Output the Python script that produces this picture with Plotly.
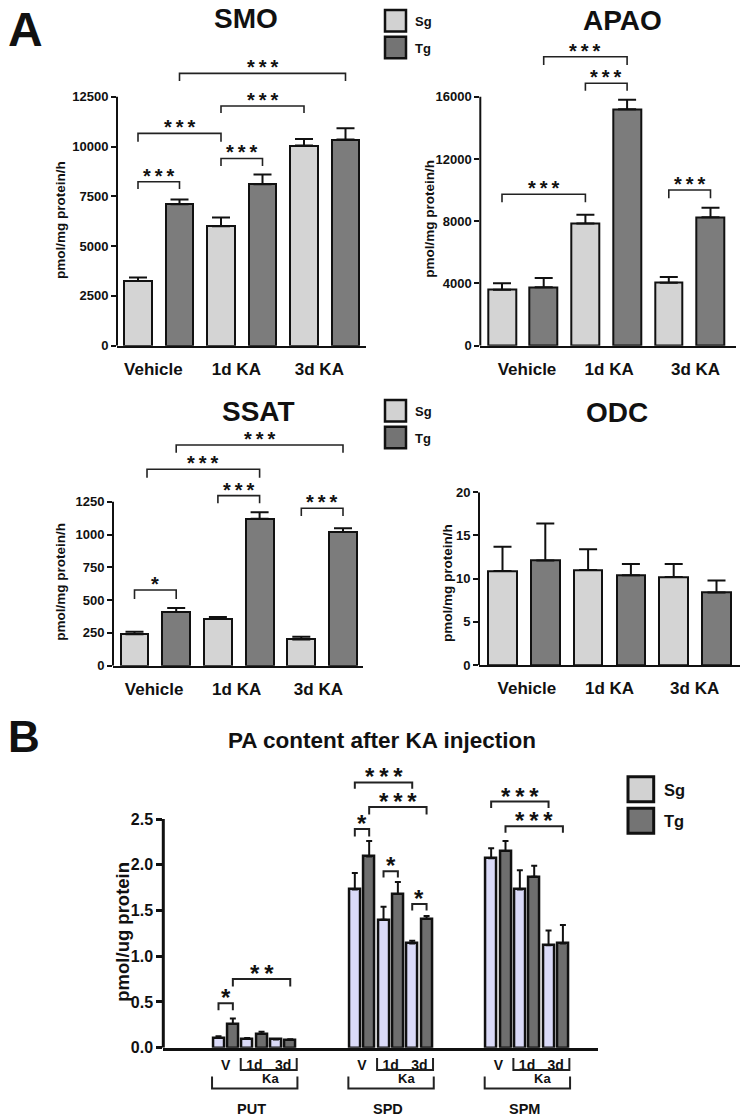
import plotly.graph_objects as go

W, H = 746, 1118
FONT = "Liberation Sans, Arial, Helvetica, sans-serif"
INK = "#111111"

# ---------------- data ----------------
categories = ["Vehicle", "1d KA", "3d KA"]
series_names = ["Sg", "Tg"]

smo_sg = [3250, 6000, 10050]
smo_sg_err = [170, 430, 330]
smo_tg = [7100, 8100, 10350]
smo_tg_err = [240, 500, 560]

apao_sg = [3600, 7850, 4050]
apao_sg_err = [420, 560, 360]
apao_tg = [3750, 15200, 8250]
apao_tg_err = [600, 600, 620]

ssat_sg = [240, 355, 200]
ssat_sg_err = [18, 17, 20]
ssat_tg = [410, 1120, 1020]
ssat_tg_err = [30, 50, 28]

odc_sg = [10.9, 11.0, 10.2]
odc_sg_err = [2.8, 2.4, 1.5]
odc_tg = [12.1, 10.4, 8.4]
odc_tg_err = [4.3, 1.3, 1.4]

pa_compounds = ["PUT", "SPD", "SPM"]
pa_conditions = ["V", "1d", "3d"]
pa_ka_label = "Ka"
put_sg = [0.11, 0.095, 0.09]
put_sg_err = [0.015, 0.01, 0.005]
put_tg = [0.26, 0.15, 0.085]
put_tg_err = [0.06, 0.025, 0.006]
spd_sg = [1.73, 1.40, 1.14]
spd_sg_err = [0.18, 0.14, 0.03]
spd_tg = [2.09, 1.68, 1.41]
spd_tg_err = [0.17, 0.13, 0.03]
spm_sg = [2.07, 1.73, 1.12]
spm_sg_err = [0.11, 0.21, 0.16]
spm_tg = [2.15, 1.87, 1.14]
spm_tg_err = [0.11, 0.12, 0.20]

# significance brackets: (bar_i, bar_j, y_top, y_leg, label)
smo_sig = [(0, 1, 8230, 7870, "***"), (2, 3, 9400, 9020, "***"),
           (0, 2, 10660, 10240, "***"), (2, 4, 12030, 11680, "***"),
           (1, 5, 13670, 13290, "***")]
apao_sig = [(0, 2, 9730, 9210, "***"), (2, 3, 16860, 16390, "***"),
            (1, 3, 18570, 18040, "***"), (4, 5, 10000, 9470, "***")]
ssat_sig = [(0, 1, 577, 508, "*"), (2, 3, 1296, 1238, "***"),
            (4, 5, 1200, 1141, "***"), (0.3, 3, 1497, 1433, "***"),
            (1, 5, 1682, 1623, "***")]
put_sig = [(0, 1, 0.485, 0.41, "*"), (1, 5, 0.75, 0.67, "**")]
spd_sig = [(0, 1, 2.39, 2.31, "*"), (2, 3, 1.93, 1.86, "*"),
           (4, 5, 1.57, 1.50, "*"), (0, 4, 2.90, 2.83, "***"),
           (1, 5, 2.63, 2.55, "***")]
spm_sig = [(0, 4, 2.69, 2.62, "***"), (1, 5, 2.42, 2.35, "***")]

# ---------------- styles ----------------
A_SG, A_TG = "#d4d4d4", "#7c7c7c"
B_SG, B_TG = "#dadaf8", "#6e6e6e"
LEG_SG, LEG_TG = "#d2d2d2", "#747474"


def px(yp):
    return 1 - yp / H


def bold(size):
    return dict(family=FONT, size=size, color=INK, weight="bold")


fig = go.Figure()
shapes, annos = [], []


def star_text(s):
    return "\u2009".join(s)


def add_brackets(xr, yr, sig, offset, star_size, yshift, lw):
    for i, j, yt, yl, lab in sig:
        xi, xj = offset + i, offset + j
        shapes.append(dict(type="path", xref=xr, yref=yr,
                           path=f"M {xi},{yl} L {xi},{yt} L {xj},{yt} L {xj},{yl}",
                           line=dict(color="#222", width=lw)))
        annos.append(dict(x=(xi + xj) / 2, y=yt, xref=xr, yref=yr,
                          text=star_text(lab), showarrow=False,
                          yanchor="bottom", yshift=yshift,
                          font=bold(star_size)))


# ---------------- panel A ----------------
panels_a = [
    dict(title="SMO", sg=smo_sg, sge=smo_sg_err, tg=smo_tg, tge=smo_tg_err,
         left=117, right=366, y0=345.7, ytop=96.7, yval=12500, dtick=2500,
         ymax=15000, c0=138, sp=41.5, xt=[0.37, 2.37, 4.37], sig=smo_sig,
         tpos=(245.5, 18.5), ypos=(61, 220)),
    dict(title="APAO", sg=apao_sg, sge=apao_sg_err, tg=apao_tg, tge=apao_tg_err,
         left=480.3, right=736, y0=345.7, ytop=96.7, yval=16000, dtick=4000,
         ymax=20000, c0=502, sp=41.7, xt=[0.6, 2.57, 4.64], sig=apao_sig,
         tpos=(622, 20), ypos=(428.7, 219)),
    dict(title="SSAT", sg=ssat_sg, sge=ssat_sg_err, tg=ssat_tg, tge=ssat_tg_err,
         left=113, right=363, y0=665.7, ytop=501.7, yval=1250, dtick=250,
         ymax=1850, c0=134.5, sp=41.7, xt=[0.47, 2.45, 4.41], sig=ssat_sig,
         tpos=(258, 411.5), ypos=(61, 581.7)),
    dict(title="ODC", sg=odc_sg, sge=odc_sg_err, tg=odc_tg, tge=odc_tg_err,
         left=479, right=740, y0=665, ytop=492.3, yval=20, dtick=5,
         ymax=20, c0=502.5, sp=42.8, xt=[0.57, 2.5, 4.49], sig=[],
         tpos=(616.7, 412.5), ypos=(447, 583)),
]

for n, p in enumerate(panels_a, start=1):
    sfx = "" if n == 1 else str(n)
    xa, ya = "x" + sfx, "y" + sfx
    k = (p["y0"] - p["ytop"]) / p["yval"]
    dom_top = p["y0"] - p["ymax"] * k
    xr = [(p["left"] - p["c0"]) / p["sp"], (p["right"] - p["c0"]) / p["sp"]]
    for vals, errs, col, xs in ((p["sg"], p["sge"], A_SG, [0, 2, 4]),
                                (p["tg"], p["tge"], A_TG, [1, 3, 5])):
        fig.add_trace(go.Bar(
            x=xs, y=vals, width=0.67, xaxis=xa, yaxis=ya, showlegend=False,
            marker=dict(color=col, line=dict(color=INK, width=2)),
            error_y=dict(type="data", symmetric=False, array=errs,
                         arrayminus=[0] * len(errs), width=9, thickness=2,
                         color=INK)))
    fig.layout["xaxis" + sfx] = dict(
        domain=[p["left"] / W, p["right"] / W], range=xr, anchor=ya,
        showline=True, linewidth=2, linecolor=INK, ticks="",
        tickvals=p["xt"], ticktext=categories, tickfont=bold(17),
        ticklabelstandoff=7, showgrid=False, zeroline=False, fixedrange=True,
        automargin=False)
    tv = [p["dtick"] * i for i in range(int(round(p["yval"] / p["dtick"])) + 1)]
    fig.layout["yaxis" + sfx] = dict(
        domain=[px(p["y0"]), px(dom_top)], range=[0, p["ymax"]], anchor=xa,
        showline=False, ticks="outside", ticklen=5, tickwidth=2, tickcolor=INK,
        tickvals=tv, tickformat="d", tickfont=bold(13), showgrid=False,
        zeroline=False, fixedrange=True, automargin=False)
    shapes.append(dict(type="line", xref=xa + " domain", x0=0, x1=0,
                       yref=ya, y0=0, y1=p["yval"],
                       line=dict(color=INK, width=2)))
    add_brackets(xa, ya, p["sig"], 0, 20, -7, 1.6)
    annos.append(dict(x=p["tpos"][0] / W, y=px(p["tpos"][1]), xref="paper",
                      yref="paper", text=p["title"], showarrow=False,
                      font=bold(28), xanchor="center", yanchor="middle"))
    annos.append(dict(x=p["ypos"][0] / W, y=px(p["ypos"][1]), xref="paper",
                      yref="paper", text="pmol/mg protein/h", textangle=-90,
                      showarrow=False, font=bold(13.5), xanchor="center",
                      yanchor="middle"))

# legends for panel A
for top in (10, 400):
    for idx, (name, col) in enumerate(zip(series_names, (LEG_SG, LEG_TG))):
        y_a = top + idx * 26.7
        shapes.append(dict(type="rect", xref="paper", yref="paper",
                           x0=385 / W, x1=406 / W, y0=px(y_a + 21.5), y1=px(y_a),
                           fillcolor=col, line=dict(color=INK, width=2.5)))
        annos.append(dict(x=413 / W, y=px(y_a + 11.5), xref="paper", yref="paper",
                          text=name, showarrow=False, font=bold(13),
                          xanchor="left", yanchor="middle"))

annos.append(dict(x=6 / W, y=px(1), xref="paper", yref="paper", text="A",
                  showarrow=False, font=bold(48), xanchor="left",
                  yanchor="top"))

# ---------------- panel B ----------------
B = dict(left=163.3, right=598, y0=1047.7, ytop=819, yval=2.5, dtick=0.5,
         ymax=3.1, c0=218.5, sp=14.35, gstep=9.5)
kb = (B["y0"] - B["ytop"]) / B["yval"]
b_top = B["y0"] - B["ymax"] * kb
pa_sg = [put_sg, spd_sg, spm_sg]
pa_sg_err = [put_sg_err, spd_sg_err, spm_sg_err]
pa_tg = [put_tg, spd_tg, spm_tg]
pa_tg_err = [put_tg_err, spd_tg_err, spm_tg_err]

for vals_l, err_l, col, off in ((pa_sg, pa_sg_err, B_SG, 0), (pa_tg, pa_tg_err, B_TG, 1)):
    xs, ys, es = [], [], []
    for g in range(3):
        for c in range(3):
            xs.append(g * B["gstep"] + 2 * c + off)
            ys.append(vals_l[g][c])
            es.append(err_l[g][c])
    fig.add_trace(go.Bar(
        x=xs, y=ys, width=0.77, xaxis="x5", yaxis="y5", showlegend=False,
        marker=dict(color=col, line=dict(color=INK, width=2.5)),
        error_y=dict(type="data", symmetric=False, array=es,
                     arrayminus=[0] * len(es), width=3, thickness=2, color=INK)))

b_tickvals, b_ticktext = [], []
for g in range(3):
    for c in range(3):
        b_tickvals.append(g * B["gstep"] + 2 * c + 0.5)
        b_ticktext.append(pa_conditions[c])

fig.layout["xaxis5"] = dict(
    domain=[B["left"] / W, B["right"] / W],
    range=[(B["left"] - B["c0"]) / B["sp"], (B["right"] - B["c0"]) / B["sp"]],
    anchor="y5", showline=True, linewidth=3, linecolor=INK, ticks="",
    tickvals=b_tickvals, ticktext=b_ticktext, tickfont=bold(14),
    ticklabelstandoff=2, showgrid=False, zeroline=False, fixedrange=True,
    automargin=False)
fig.layout["yaxis5"] = dict(
    domain=[px(B["y0"]), px(b_top)], range=[0, B["ymax"]], anchor="x5",
    showline=False, ticks="outside", ticklen=6, tickwidth=2.5, tickcolor=INK,
    tickvals=[B["dtick"] * i for i in range(6)], tickformat=".1f",
    tickfont=bold(16), showgrid=False, zeroline=False, fixedrange=True,
    automargin=False)
shapes.append(dict(type="line", xref="x5 domain", x0=0, x1=0, yref="y5",
                   y0=0, y1=B["yval"], line=dict(color=INK, width=3)))

for g, sig in enumerate((put_sig, spd_sig, spm_sig)):
    add_brackets("x5", "y5", sig, g * B["gstep"], 24, -10, 2)

for g, name in enumerate(pa_compounds):
    o = g * B["gstep"]
    shapes.append(dict(type="path", xref="x5", yref="paper",
                       path=f"M {o + 1.55},{px(1058)} L {o + 1.55},{px(1070)} "
                            f"L {o + 5.45},{px(1070)} L {o + 5.45},{px(1058)}",
                       line=dict(color="#222", width=2)))
    annos.append(dict(x=o + 3.6, y=px(1078.5), xref="x5", yref="paper",
                      text=pa_ka_label, showarrow=False, font=bold(13),
                      xanchor="center", yanchor="middle"))
    shapes.append(dict(type="path", xref="x5", yref="paper",
                       path=f"M {o - 0.45},{px(1076.5)} L {o - 0.45},{px(1088.5)} "
                            f"L {o + 5.5},{px(1088.5)} L {o + 5.5},{px(1076.5)}",
                       line=dict(color="#222", width=2)))
    annos.append(dict(x=o + 2.3, y=px(1108.5), xref="x5", yref="paper",
                      text=name, showarrow=False, font=bold(14.5),
                      xanchor="center", yanchor="middle"))

annos.append(dict(x=382 / W, y=px(740), xref="paper", yref="paper",
                  text="PA content after KA injection", showarrow=False,
                  font=bold(22.5), xanchor="center", yanchor="middle"))
annos.append(dict(x=121.7 / W, y=px(932), xref="paper", yref="paper",
                  text="pmol/ug protein", textangle=-90, showarrow=False,
                  font=bold(18.5), xanchor="center", yanchor="middle"))
annos.append(dict(x=6 / W, y=px(736), xref="paper", yref="paper", text="B",
                  showarrow=False, font=bold(44), xanchor="left",
                  yanchor="middle"))

for idx, (name, col) in enumerate(zip(series_names, (LEG_SG, LEG_TG))):
    y_a = 776.7 + idx * 31.6
    shapes.append(dict(type="rect", xref="paper", yref="paper",
                       x0=628 / W, x1=653.7 / W, y0=px(y_a + 25), y1=px(y_a),
                       fillcolor=col, line=dict(color=INK, width=3)))
    annos.append(dict(x=662 / W, y=px(y_a + 13), xref="paper", yref="paper",
                      text=name, showarrow=False, font=bold(16.5),
                      xanchor="left", yanchor="middle"))

fig.update_layout(
    template="none",
    width=W, height=H, margin=dict(l=0, r=0, t=0, b=0, autoexpand=False),
    paper_bgcolor="white", plot_bgcolor="white", bargap=0,
    font=dict(family=FONT, color=INK), shapes=shapes, annotations=annos,
    showlegend=False)

fig.write_html(
    "out.html",
    config={"displayModeBar": False},
    post_script="document.body.style.margin='0px';document.body.style.padding='0px';"
                "document.documentElement.style.overflow='hidden';")
